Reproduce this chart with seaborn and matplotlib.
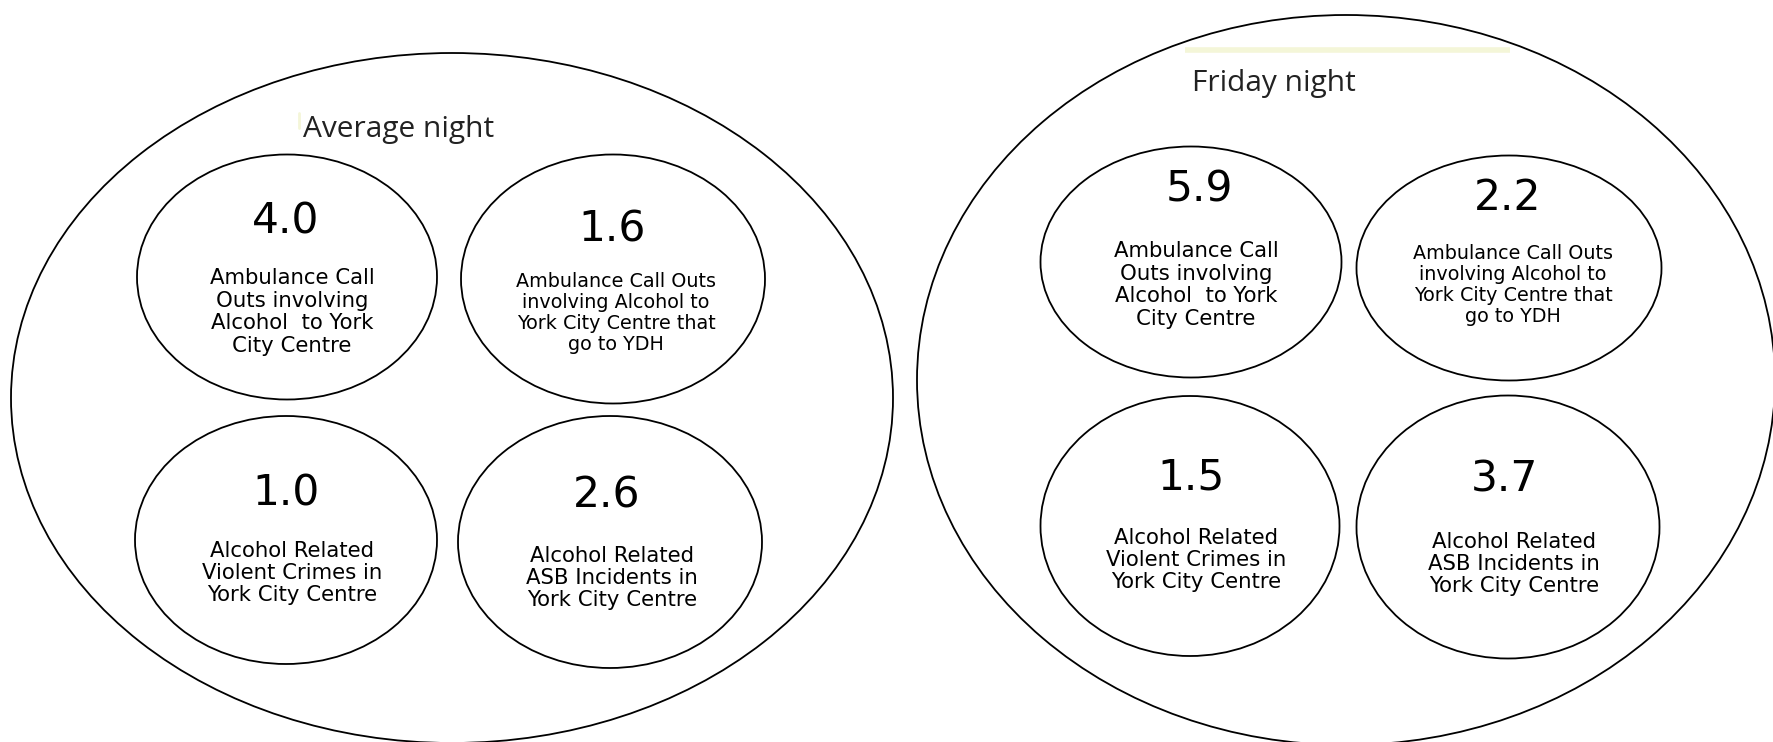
import matplotlib
matplotlib.use("Agg")
import matplotlib.pyplot as plt
from matplotlib.patches import Ellipse
import seaborn as sns

# ---- data ----
groups = ["Average night", "Friday night"]
avg_values = [4.0, 1.6, 1.0, 2.6]
fri_values = [5.9, 2.2, 1.5, 3.7]
labels = [
    "Ambulance Call\nOuts involving\nAlcohol  to York\nCity Centre",
    "Ambulance Call Outs\ninvolving Alcohol to\nYork City Centre that\ngo to YDH",
    "Alcohol Related\nViolent Crimes in\nYork City Centre",
    "Alcohol Related\nASB Incidents in\nYork City Centre",
]

# ---- layout (pixel coordinates, y downwards) ----
W, H = 1773, 742
big = [  # cx, cy, w, h
    (452, 398, 882, 690),
    (1346, 380, 858, 730),
]
title_pos = [(303, 129), (1192, 84)]
small = [
    [(287, 277, 300, 245), (613, 279, 304, 249), (286, 540, 302, 248), (610, 542, 304, 252)],
    [(1191, 262, 301, 231), (1509, 268, 305, 225), (1190, 526, 299, 260), (1508, 527, 303, 263)],
]
num_pos = [
    [(286, 221), (612, 229), (286, 494), (607, 496)],
    [(1199, 189), (1508, 198), (1191, 477), (1504, 479)],
]
lab_pos = [
    [(292, 312), (616, 313), (292, 573), (612, 578)],
    [(1196, 285), (1513, 285), (1196, 560), (1514, 564)],
]

sns.set_theme(style="white")
plt.rcParams["font.family"] = ["DejaVu Sans"]

fig = plt.figure(figsize=(W / 100, H / 100), dpi=100)
ax = fig.add_axes([0, 0, 1, 1])
ax.set_xlim(0, W)
ax.set_ylim(H, 0)
ax.axis("off")

# faint yellow highlight remnants
ax.plot([1185, 1510], [50, 50], color="#f4f6d8", lw=4, solid_capstyle="butt")
ax.plot([299, 299], [113, 128], color="#f4f6d8", lw=2)

lw = 1.3
values_all = [avg_values, fri_values]
for g in range(2):
    cx, cy, w, h = big[g]
    ax.add_patch(Ellipse((cx, cy), w, h, fill=False, ec="black", lw=lw))
    tx, ty = title_pos[g]
    ax.text(tx, ty, groups[g], ha="left", va="center", fontsize=21.5,
            family="Open Sans", color="#222222")
    for i in range(4):
        sx, sy, sw, sh = small[g][i]
        ax.add_patch(Ellipse((sx, sy), sw, sh, fill=False, ec="black", lw=lw))
        nx, ny = num_pos[g][i]
        ax.text(nx, ny, f"{values_all[g][i]:.1f}", ha="center", va="center",
                fontsize=30.5, color="black")
        lx, ly = lab_pos[g][i]
        fs = 13.8 if i == 1 else 15.3
        ax.text(lx, ly, labels[i], ha="center", va="center", fontsize=fs,
                linespacing=1.13 if i == 1 else 1.15, color="black")

fig.savefig("out.png", dpi=100, facecolor="white")
